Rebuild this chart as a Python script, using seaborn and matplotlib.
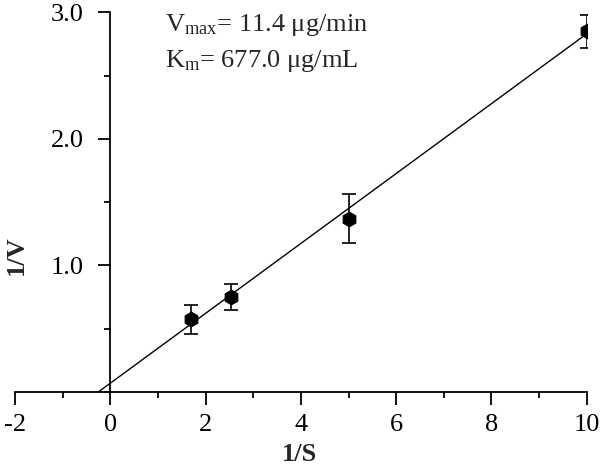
import matplotlib
matplotlib.use("Agg")
import matplotlib.pyplot as plt
import numpy as np
import pandas as pd
import seaborn as sns
from matplotlib.ticker import MultipleLocator

# Lineweaver-Burk data
inv_s = [1.7, 2.53, 5.0, 10.0]
inv_v = [0.575, 0.75, 1.37, 2.85]
inv_v_err = [0.115, 0.105, 0.195, 0.13]

# fitted line
fit_slope = 0.276
fit_intercept = 0.07

vmax_text = "V$_{\\mathregular{max}}$= 11.4 \u03bcg/min"
km_text = "K$_{\\mathregular{m}}$= 677.0 \u03bcg/mL"

sns.set_theme(style="ticks")
plt.rcParams["font.family"] = ["Liberation Serif", "DejaVu Serif"]
plt.rcParams["mathtext.fontset"] = "custom"
plt.rcParams["mathtext.rm"] = "Liberation Serif"
plt.rcParams["mathtext.it"] = "Liberation Serif"
plt.rcParams["axes.unicode_minus"] = False

df = pd.DataFrame({"inv_s": inv_s, "inv_v": inv_v, "err": inv_v_err})

fig = plt.figure(figsize=(6, 4.69), dpi=100)
ax = fig.add_axes([0.025, 0.164, 0.953, 0.81])

# fit line from the x-intercept to the last point
x0 = -fit_intercept / fit_slope
line_x = np.array([x0, max(inv_s)])
line_df = pd.DataFrame({"x": line_x, "y": fit_intercept + fit_slope * line_x})
sns.lineplot(data=line_df, x="x", y="y", ax=ax, color="black", linewidth=1.0)

ax.errorbar(df["inv_s"], df["inv_v"], yerr=df["err"], fmt="none",
            ecolor="black", elinewidth=1.2, capsize=5, capthick=1.2)
sns.scatterplot(data=df, x="inv_s", y="inv_v", ax=ax, marker="h", s=110,
                color="black", edgecolor="black", zorder=5)

ax.set_xlim(-2, 10)
ax.set_ylim(0, 3.0)
ax.spines["left"].set_position(("data", 0))
ax.spines["bottom"].set_position(("data", 0))
ax.spines["top"].set_visible(False)
ax.spines["right"].set_visible(False)
for side in ["left", "bottom"]:
    ax.spines[side].set_linewidth(1.3)
    ax.spines[side].set_color("black")

ax.xaxis.set_major_locator(MultipleLocator(2))
ax.xaxis.set_minor_locator(MultipleLocator(1))
ax.set_yticks([1.0, 2.0, 3.0])
ax.set_yticklabels(["1.0", "2.0", "3.0"])
ax.yaxis.set_minor_locator(MultipleLocator(0.5))
ax.tick_params(axis="both", which="major", length=9, width=1.3, color="black",
               labelsize=19, labelcolor="black")
ax.tick_params(axis="both", which="minor", length=4.5, width=1.3, color="black")
ax.tick_params(axis="x", which="major", pad=7)
ax.tick_params(axis="y", which="major", pad=10)

ax.set_xlabel("")
ax.set_ylabel("")
fig.text(0.5, 0.03, "1/S", ha="center", va="center", fontsize=19, fontweight="bold")
fig.text(0.027, 0.455, "1/V", ha="center", va="center", rotation=90,
         fontsize=19, fontweight="bold")

ax.text(1.15, 3.0, vmax_text, ha="left", va="top", fontsize=19)
ax.text(1.15, 2.72, km_text, ha="left", va="top", fontsize=19)

fig.savefig("out.png", dpi=100, facecolor="white")
